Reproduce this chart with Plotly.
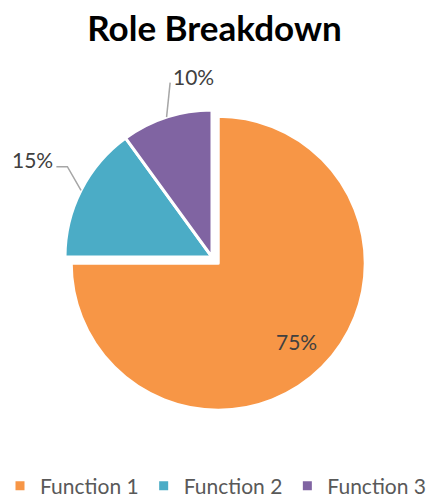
import math
import plotly.graph_objects as go

# ---- data ----
labels = ["Function 1", "Function 2", "Function 3"]
values = [75, 15, 10]
colors = ["#F79646", "#4BACC6", "#8064A2"]

# ---- layout constants (pixels) ----
W, H = 429, 497
CX, CY, R = 212, 257, 147
PULL = 0.06
FONT = "Lato"
LABEL_FONT = dict(family=FONT, size=21, color="#404040")

half = R * (1 + PULL)
dom_x = [(CX - half) / W, (CX + half) / W]
dom_y = [1 - (CY + half) / H, 1 - (CY - half) / H]

fig = go.Figure(go.Pie(
    labels=labels, values=values, sort=False, direction="clockwise", rotation=0,
    marker=dict(colors=colors, line=dict(color="white", width=3)),
    pull=[PULL, 0, 0],
    textinfo="none",
    domain=dict(x=dom_x, y=dom_y),
    showlegend=True,
))

# per-slice label style: inside -> radius factor; outside -> (angle adj, elbow factor, seg px, side)
label_style = {0: ("inside", 0.755), 1: ("outside", 5, 1.16, -11, "left"),
               2: ("outside", 4.5, 1.22, 0, "right")}
total = sum(values)
pulls = [PULL, 0, 0]
shapes, annots = [], []
cum = 0
for i, v in enumerate(values):
    start = cum / total * 360
    cum += v
    end = cum / total * 360
    mid = (start + end) / 2
    a0 = math.radians(mid)
    txt = f"{round(v / total * 100)}%"
    st = label_style[i]
    ox = CX + pulls[i] * R * math.sin(a0)
    oy = CY - pulls[i] * R * math.cos(a0)
    if st[0] == "inside":
        k = st[1]
        x, y = ox + k * R * math.sin(a0), oy - k * R * math.cos(a0)
        annots.append(dict(x=x / W, y=1 - y / H, xref="paper", yref="paper", text=txt,
                           showarrow=False, xanchor="center", yanchor="middle", font=LABEL_FONT))
        continue
    _, adj, k, seg, side = st
    a1 = math.radians(mid + adj)
    x0, y0 = ox + R * math.sin(a0), oy - R * math.cos(a0)
    x1, y1 = ox + k * R * math.sin(a1), oy - k * R * math.cos(a1)
    x2, y2 = x1 + seg, y1
    path = f"M {x0/W} {1-y0/H} L {x1/W} {1-y1/H} L {x2/W} {1-y2/H}"
    shapes.append(dict(type="path", xref="paper", yref="paper", path=path,
                       line=dict(color="#A6A6A6", width=1.5)))
    if side == "left":
        annots.append(dict(x=(x2 - 1) / W, y=1 - (y2 - 7) / H, xref="paper", yref="paper",
                           text=txt, showarrow=False, xanchor="right", yanchor="middle",
                           font=LABEL_FONT))
    else:
        annots.append(dict(x=(x2 + 1) / W, y=1 - (y2 - 6) / H, xref="paper", yref="paper",
                           text=txt, showarrow=False, xanchor="left", yanchor="middle",
                           font=LABEL_FONT))

fig.update_layout(
    width=W, height=H,
    margin=dict(l=0, r=0, t=0, b=0, autoexpand=False),
    paper_bgcolor="white", plot_bgcolor="white",
    title=dict(text="<b>Role Breakdown</b>", x=0.5, xanchor="center",
               y=1 - 29 / H, yanchor="middle",
               font=dict(family=FONT, size=35, color="#000000")),
    legend=dict(orientation="h", x=-10 / W, xanchor="left", y=1 - 486 / H, yanchor="middle",
                xref="container", yref="container",
                font=dict(family=FONT, size=21, color="#595959"),
                itemwidth=30, traceorder="normal"),
    shapes=shapes, annotations=annots,
)

fig.write_html("out.html", config={"displayModeBar": False},
               post_script="document.body.style.margin='0';document.body.style.overflow='hidden';")
